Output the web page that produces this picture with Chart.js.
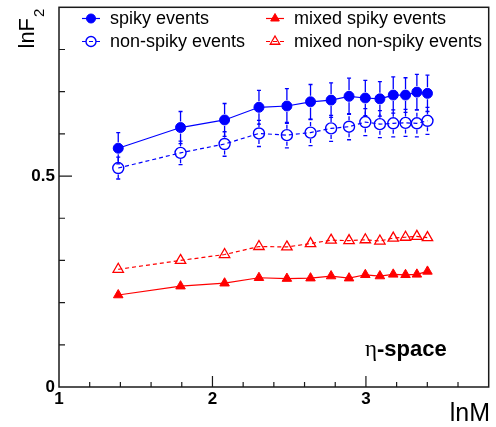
<!DOCTYPE html>
<html>
<head>
<meta charset="utf-8">
<script src="https://cdn.jsdelivr.net/npm/chart.js@4/dist/chart.umd.min.js"></script>
<style>
  html, body { margin: 0; padding: 0; background: #fff; }
</style>
</head>
<body>
<canvas id="chart" width="496" height="427"></canvas>
<script>
// data (x = lnM, y = lnF2)
const lnM = [1.386, 1.792, 2.079, 2.303, 2.485, 2.639, 2.773, 2.890, 2.996, 3.091, 3.178, 3.258, 3.332, 3.401];
const spiky = [0.566, 0.615, 0.633, 0.663, 0.666, 0.676, 0.680, 0.689, 0.685, 0.683, 0.692, 0.692, 0.699, 0.696];
const spikyErr = [0.037, 0.038, 0.039, 0.040, 0.041, 0.041, 0.041, 0.043, 0.042, 0.041, 0.043, 0.041, 0.042, 0.043];
const nonSpiky = [0.519, 0.555, 0.576, 0.601, 0.597, 0.603, 0.613, 0.617, 0.628, 0.623, 0.625, 0.626, 0.625, 0.631];
const nonSpikyErr = [0.026, 0.028, 0.029, 0.031, 0.030, 0.031, 0.031, 0.031, 0.032, 0.032, 0.032, 0.032, 0.032, 0.032];
const mixedSpiky = [0.218, 0.239, 0.246, 0.259, 0.257, 0.258, 0.263, 0.258, 0.266, 0.263, 0.267, 0.266, 0.267, 0.274];
const mixedNonSpiky = [0.279, 0.300, 0.314, 0.333, 0.332, 0.340, 0.348, 0.347, 0.349, 0.346, 0.353, 0.355, 0.357, 0.354];

const xTickLabels = ['1', '2', '3'];
const yTickLabels = ['0', '0.5'];
const xMajor = [1, 2, 3];
const yMajor = [0, 0.5];

const BLUE = '#0000ff';
const RED = '#ff0000';
const FRAME = '#1a1a1a';

function pts(ys) {
  return lnM.map((x, i) => ({ x: x, y: ys[i] }));
}

function near(a, b) { return Math.abs(a - b) < 1e-6; }

// error bars, the part hidden by the marker is left out
const errorBars = {
  id: 'errorBars',
  beforeDatasetsDraw(chart) {
    const ctx = chart.ctx;
    const xs = chart.scales.x, ys = chart.scales.y;
    chart.data.datasets.forEach(ds => {
      if (!ds.errors) return;
      const gap = ds.pointRadius + 1;
      ctx.save();
      ctx.strokeStyle = ds.borderColor;
      ctx.lineWidth = 1.3;
      ds.data.forEach((p, i) => {
        const px = xs.getPixelForValue(p.x);
        const py = ys.getPixelForValue(p.y);
        const top = ys.getPixelForValue(p.y + ds.errors[i]);
        const bot = ys.getPixelForValue(p.y - ds.errors[i]);
        ctx.setLineDash(ds.borderDash || []);
        ctx.beginPath();
        ctx.moveTo(px, py - gap); ctx.lineTo(px, top);
        ctx.moveTo(px, py + gap); ctx.lineTo(px, bot);
        ctx.stroke();
        ctx.setLineDash([]);
        ctx.beginPath();
        ctx.moveTo(px - 2, top); ctx.lineTo(px + 2, top);
        ctx.moveTo(px - 2, bot); ctx.lineTo(px + 2, bot);
        ctx.stroke();
      });
      ctx.restore();
    });
  }
};

// ROOT-like frame with inward ticks, titles, legend and label
const frame = {
  id: 'frame',
  afterDraw(chart) {
    const ctx = chart.ctx;
    const a = chart.chartArea;
    const xs = chart.scales.x, ys = chart.scales.y;
    ctx.save();
    ctx.strokeStyle = FRAME;
    ctx.lineWidth = 1.5;
    ctx.strokeRect(a.left, a.top, a.right - a.left, a.bottom - a.top);

    ctx.lineWidth = 1.2;
    ctx.beginPath();
    xs.ticks.forEach(t => {
      const px = xs.getPixelForValue(t.value);
      if (px <= a.left + 1 || px >= a.right - 1) return;
      const len = xMajor.some(v => near(v, t.value)) ? 11 : 5;
      ctx.moveTo(px, a.bottom); ctx.lineTo(px, a.bottom - len);
    });
    ys.ticks.forEach(t => {
      const py = ys.getPixelForValue(t.value);
      if (py >= a.bottom - 1 || py <= a.top + 1) return;
      const len = yMajor.some(v => near(v, t.value)) ? 13 : 6;
      ctx.moveTo(a.left, py); ctx.lineTo(a.left + len, py);
    });
    ctx.stroke();
    ctx.restore();

    // axis titles
    ctx.save();
    ctx.fillStyle = '#000';
    ctx.font = '25px "Liberation Sans", Arial, sans-serif';
    ctx.textAlign = 'right';
    ctx.textBaseline = 'alphabetic';
    ctx.fillText('lnM', 490, 421);
    ctx.restore();

    ctx.save();
    ctx.fillStyle = '#000';
    ctx.translate(33.5, 48.5);
    ctx.rotate(-Math.PI / 2);
    ctx.font = '22px "Liberation Sans", Arial, sans-serif';
    ctx.textAlign = 'left';
    ctx.fillText('lnF', 0, 0);
    ctx.font = '15px "Liberation Sans", Arial, sans-serif';
    ctx.fillText('2', 31.5, 10.5);
    ctx.restore();

    // eta-space label
    ctx.save();
    ctx.fillStyle = '#000';
    ctx.font = '23px "Liberation Serif", "DejaVu Serif", serif';
    ctx.textBaseline = 'alphabetic';
    ctx.fillText('η', 365, 356);
    const w = ctx.measureText('η').width;
    ctx.font = 'bold 22px "Liberation Sans", Arial, sans-serif';
    ctx.fillText('-space', 365 + w, 356);
    ctx.restore();

    // legend, two columns inside the frame
    const slots = [
      { x: 91, y: 18.5 }, { x: 91, y: 41.5 },
      { x: 275, y: 18.5 }, { x: 275, y: 41.5 }
    ];
    chart.data.datasets.forEach((ds, i) => {
      const s = slots[i];
      const r = ds.pointRadius - 0.5;
      ctx.save();
      ctx.strokeStyle = ds.borderColor;
      ctx.lineWidth = 1.2;
      ctx.setLineDash(ds.borderDash || []);
      ctx.beginPath();
      ctx.moveTo(s.x - 9, s.y); ctx.lineTo(s.x + 9, s.y);
      ctx.stroke();
      ctx.setLineDash([]);
      ctx.fillStyle = ds.pointBackgroundColor;
      ctx.strokeStyle = ds.pointBorderColor;
      ctx.lineWidth = ds.pointBorderWidth;
      ctx.beginPath();
      if (ds.pointStyle === 'circle') {
        ctx.arc(s.x, s.y, r, 0, Math.PI * 2);
      } else {
        ctx.moveTo(s.x, s.y - r);
        ctx.lineTo(s.x + r * 0.866, s.y + r * 0.5);
        ctx.lineTo(s.x - r * 0.866, s.y + r * 0.5);
        ctx.closePath();
      }
      ctx.fill();
      ctx.stroke();
      ctx.fillStyle = '#000';
      ctx.font = '18px "Liberation Sans", Arial, sans-serif';
      ctx.textBaseline = 'alphabetic';
      ctx.fillText(ds.label, s.x + 19, s.y + 5.5);
      ctx.restore();
    });
  }
};

const tickFont = { family: '"Liberation Sans", Arial, sans-serif', size: 17, weight: 'bold' };

new Chart(document.getElementById('chart'), {
  type: 'line',
  data: {
    datasets: [
      {
        label: 'spiky events', data: pts(spiky), errors: spikyErr,
        borderColor: BLUE, borderWidth: 1.2,
        pointStyle: 'circle', pointRadius: 5, pointBackgroundColor: BLUE,
        pointBorderColor: BLUE, pointBorderWidth: 1
      },
      {
        label: 'non-spiky events', data: pts(nonSpiky), errors: nonSpikyErr,
        borderColor: BLUE, borderWidth: 1.2, borderDash: [4, 3],
        pointStyle: 'circle', pointRadius: 5.5, pointBackgroundColor: 'rgba(0,0,0,0)',
        pointBorderColor: BLUE, pointBorderWidth: 1.4
      },
      {
        label: 'mixed spiky events', data: pts(mixedSpiky),
        borderColor: RED, borderWidth: 1.2,
        pointStyle: 'triangle', pointRadius: 5.5, pointBackgroundColor: RED,
        pointBorderColor: RED, pointBorderWidth: 1
      },
      {
        label: 'mixed non-spiky events', data: pts(mixedNonSpiky),
        borderColor: RED, borderWidth: 1.2, borderDash: [4, 3],
        pointStyle: 'triangle', pointRadius: 6, pointBackgroundColor: 'rgba(0,0,0,0)',
        pointBorderColor: RED, pointBorderWidth: 1.3
      }
    ]
  },
  options: {
    responsive: false,
    devicePixelRatio: 1,
    animation: false,
    layout: { padding: { top: 3, right: 7, left: 0, bottom: 0 } },
    plugins: { legend: { display: false }, tooltip: { enabled: false } },
    elements: { line: { tension: 0 } },
    scales: {
      x: {
        type: 'linear', min: 1, max: 3.8,
        grid: { display: false, drawTicks: false },
        border: { display: false },
        ticks: {
          stepSize: 0.2, autoSkip: false, maxRotation: 0, padding: 2,
          color: '#000', font: tickFont,
          callback: v => {
            const l = String(Math.round(v * 10) / 10);
            return xTickLabels.includes(l) ? l : '';
          }
        },
        afterFit: s => { s.height = 40; s.paddingLeft = 0; s.paddingRight = 0; }
      },
      y: {
        min: 0, max: 0.9,
        grid: { display: false, drawTicks: false },
        border: { display: false },
        ticks: {
          stepSize: 0.1, autoSkip: false, padding: 4,
          color: '#000', font: tickFont,
          callback: v => {
            const l = String(Math.round(v * 10) / 10);
            return yTickLabels.includes(l) ? l : '';
          }
        },
        afterFit: s => { s.width = 59; s.paddingTop = 0; s.paddingBottom = 0; }
      }
    }
  },
  plugins: [errorBars, frame]
});
</script>
</body>
</html>
